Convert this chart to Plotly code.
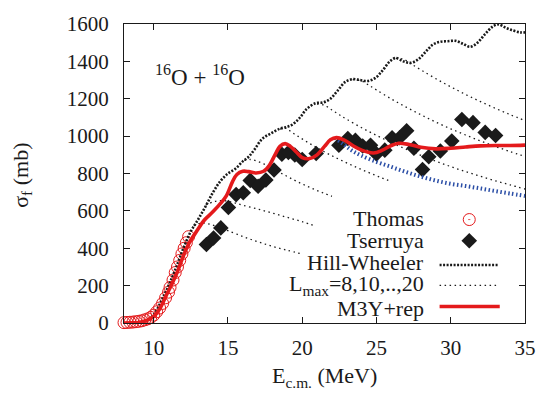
import plotly.graph_objects as go

# ---- measured data --------------------------------------------------------
thomas_e = [8.0, 8.2, 8.4, 8.6, 8.8, 9.0, 9.2, 9.4, 9.6, 9.8, 10.0, 10.2, 10.4,
            10.6, 10.8, 11.0, 11.1, 11.3, 11.45, 11.6, 11.75, 11.9, 12.05, 12.2, 12.35]
thomas_s = [2, 3, 4, 5, 7, 9, 12, 17, 22, 30, 42, 60, 80,
            105, 135, 165, 190, 230, 270, 300, 335, 370, 400, 430, 462]

tserruya_e = [13.55, 14.03, 14.52, 15.03, 15.55, 16.03, 16.5, 17.03, 17.55, 18.1,
              18.63, 19.07, 19.5, 20.0, 20.94, 22.47, 23.07, 23.58, 24.07, 24.6,
              25.0, 25.56, 26.05, 26.55, 27.03, 27.52, 28.1, 28.52, 29.3, 30.07,
              30.75, 31.5, 32.32, 33.02]
tserruya_s = [420, 455, 509, 618, 687, 697, 763, 732, 765, 819,
              903, 912, 899, 875, 907, 951, 987, 977, 947, 951,
              905, 925, 991, 991, 1029, 935, 821, 890, 920, 974,
              1089, 1072, 1020, 1003]

# ---- Hill-Wheeler fusion cross section -----------------------------------
hw_e = [9.0, 9.5, 10.0, 10.5, 11.0, 11.5, 12.0, 12.5, 13.0, 13.5, 14.0, 14.5,
        15.0, 15.5, 16.0, 16.4, 16.8, 17.3, 17.9, 18.5, 18.9, 19.3, 19.8, 20.3,
        20.9, 21.4, 21.9, 22.4, 22.9, 23.4, 23.9, 24.4, 24.9, 25.4, 25.9, 26.3,
        26.8, 27.3, 27.8, 28.3, 28.8, 29.3, 29.8, 30.3, 30.8, 31.3, 31.8, 32.3,
        32.8, 33.2, 33.7, 34.2, 34.7, 35.0]
hw_s = [2, 10, 45, 115, 200, 295, 400, 490, 555, 625, 700, 760,
        800, 825, 865, 890, 930, 985, 1015, 1040, 1048, 1060, 1095, 1145,
        1176, 1180, 1200, 1245, 1290, 1305, 1300, 1295, 1310, 1350, 1400, 1418,
        1400, 1392, 1410, 1450, 1490, 1505, 1508, 1510, 1495, 1478, 1500, 1545,
        1585, 1598, 1580, 1565, 1555, 1555]

# ---- Hill-Wheeler truncated at Lmax = 8, 10, ..., 20 -----------------------
lmax_e = {
    8: [12.7, 13.2, 13.8, 14.5, 15.0, 16.0, 17.0, 18.0, 19.0, 20.0],
    10: [13.5, 14.0, 14.5, 15.0, 15.5, 16.0, 17.0, 18.0, 19.0, 20.0, 20.9],
    12: [16.1, 16.5, 17.0, 17.5, 18.0, 18.5, 19.0, 19.5, 20.0, 20.5, 21.0, 21.5, 22.0],
    14: [18.5, 18.9, 19.3, 19.7, 20.2, 20.7, 21.2, 21.7, 22.2, 22.8, 23.4, 24.0,
         24.6, 25.3, 26.0],
    16: [21.0, 21.5, 22.0, 22.5, 23.0, 24.0, 25.0, 26.0, 27.0, 28.0, 29.0, 30.0,
         31.0, 32.0, 33.0, 34.0, 35.0],
    18: [23.4, 24.0, 24.5, 25.0, 26.0, 27.0, 28.0, 29.0, 30.0, 31.0, 32.0, 33.0,
         34.0, 35.0],
    20: [26.3, 26.8, 27.3, 28.0, 29.0, 30.0, 31.0, 32.0, 33.0, 34.0, 35.0],
}
lmax_s = {
    8: [520, 535, 528, 508, 494, 463, 435, 410, 389, 369],
    10: [630, 648, 655, 652, 642, 630, 610, 588, 565, 542, 518],
    12: [870, 875, 865, 848, 828, 805, 784, 763, 744, 726, 709, 693, 678],
    14: [1038, 1042, 1020, 1000, 975, 951, 929, 907, 887, 864, 842, 821,
         801, 778, 757],
    16: [1172, 1165, 1140, 1114, 1090, 1045, 1004, 966, 930, 897, 866, 837,
         810, 785, 761, 739, 717],
    18: [1302, 1295, 1272, 1247, 1199, 1155, 1114, 1075, 1039, 1006, 974, 945,
         917, 891],
    20: [1416, 1412, 1388, 1354, 1307, 1264, 1223, 1185, 1149, 1115, 1083],
}

# ---- M3Y+rep potential calculation ----------------------------------------
m3y_e = [8.0, 8.5, 9.0, 9.5, 10.0, 10.4, 10.8, 11.2, 11.6, 12.0, 12.4, 12.9,
         13.4, 14.0, 14.5, 14.9, 15.3, 15.6, 16.0, 16.4, 16.9, 17.4, 17.8, 18.2,
         18.5, 18.85, 19.2, 19.6, 20.0, 20.5, 21.0, 21.5, 21.9, 22.3, 22.8, 23.4,
         24.0, 24.8, 25.4, 26.0, 26.5, 27.2, 28.0, 29.0, 30.0, 31.0, 32.0, 33.0,
         34.0, 35.0]
m3y_s = [0, 1, 3, 12, 35, 75, 140, 205, 275, 360, 430, 492,
         550, 596, 640, 682, 755, 795, 812, 810, 803, 812, 845, 905,
         945, 960, 945, 915, 885, 880, 900, 945, 980, 992, 980, 950,
         925, 910, 925, 950, 962, 955, 940, 932, 935, 942, 948, 950,
         950, 952]

# M3Y+rep with the partial-wave sum truncated
m3y_trunc_e = [22.2, 22.8, 23.4, 24.0, 25.0, 26.0, 27.0, 28.0, 29.0, 30.0,
               31.0, 32.0, 33.0, 34.0, 35.0]
m3y_trunc_s = [990, 955, 920, 895, 862, 835, 808, 783, 762, 745,
               733, 720, 706, 693, 680]

# ---- styling ---------------------------------------------------------------
FONT = "Liberation Serif"
RED = "#e41a1c"
BLUE = "#2b4ea6"
INK = "#1a1a1a"
OPEN_DOT = "circle-open-dot"

fig = go.Figure()

fig.add_trace(go.Scatter(
    x=thomas_e, y=thomas_s, mode="markers", cliponaxis=False,
    marker=dict(symbol=OPEN_DOT, size=12, color=RED,
                line=dict(color=RED, width=1))))

fig.add_trace(go.Scatter(
    x=tserruya_e, y=tserruya_s, mode="markers",
    marker=dict(symbol="diamond", size=12, color=INK)))

for L in sorted(lmax_e):
    fig.add_trace(go.Scatter(
        x=lmax_e[L], y=lmax_s[L], mode="lines",
        line=dict(color=INK, width=1.3, dash="1.5px,3.5px", shape="spline")))

fig.add_trace(go.Scatter(
    x=hw_e, y=hw_s, mode="lines",
    line=dict(color=INK, width=2.6, dash="2px,1.5px", shape="spline")))

fig.add_trace(go.Scatter(
    x=m3y_trunc_e, y=m3y_trunc_s, mode="lines",
    line=dict(color=BLUE, width=4, dash="1.5px,2.5px", shape="spline")))

fig.add_trace(go.Scatter(
    x=m3y_e, y=m3y_s, mode="lines",
    line=dict(color=RED, width=3.6, shape="spline")))

# ---- key (drawn on a unit overlay axis) ------------------------------------
key_x0, key_x1, key_xm = 0.787, 0.932, 0.861
fig.add_trace(go.Scatter(
    x=[key_xm], y=[0.346], xaxis="x2", yaxis="y2", mode="markers",
    marker=dict(symbol=OPEN_DOT, size=12, color=RED,
                line=dict(color=RED, width=1))))
fig.add_trace(go.Scatter(
    x=[key_xm], y=[0.275], xaxis="x2", yaxis="y2", mode="markers",
    marker=dict(symbol="diamond", size=12, color=INK)))
fig.add_trace(go.Scatter(
    x=[key_x0, key_x1], y=[0.194, 0.194], xaxis="x2", yaxis="y2", mode="lines",
    line=dict(color=INK, width=2.6, dash="2px,1.5px")))
fig.add_trace(go.Scatter(
    x=[key_x0, key_x1], y=[0.126, 0.126], xaxis="x2", yaxis="y2", mode="lines",
    line=dict(color=INK, width=1.3, dash="1.5px,3.5px")))
fig.add_trace(go.Scatter(
    x=[key_x0, key_x1 + 0.005], y=[0.055, 0.055], xaxis="x2", yaxis="y2",
    mode="lines", line=dict(color=RED, width=3.6)))

key_labels = [
    ("Thomas", 0.350),
    ("Tserruya", 0.277),
    ("Hill-Wheeler", 0.201),
    ("L<sub>max</sub>=8,10,..,20", 0.126),
    ("M3Y+rep", 0.049),
]
annotations = []
for text, yy in key_labels:
    annotations.append(dict(
        text=text, x=0.753, y=yy, xref="paper", yref="paper",
        xanchor="right", yanchor="middle", showarrow=False,
        font=dict(family=FONT, size=22, color=INK)))

annotations.append(dict(
    text="<sup>16</sup>O + <sup>16</sup>O", x=0.190, y=0.828,
    xref="paper", yref="paper", xanchor="center", yanchor="middle",
    showarrow=False, font=dict(family=FONT, size=23, color=INK)))
annotations.append(dict(
    text="σ<sub>f</sub> (mb)", x=-0.255, y=0.495, textangle=-90,
    xref="paper", yref="paper", xanchor="center", yanchor="middle",
    showarrow=False, font=dict(family=FONT, size=22, color=INK)))
annotations.append(dict(
    text="E<sub>c.m.</sub> (MeV)", x=0.499, y=-0.180,
    xref="paper", yref="paper", xanchor="center", yanchor="middle",
    showarrow=False, font=dict(family=FONT, size=22, color=INK)))

axis_common = dict(
    showline=True, linecolor=INK, linewidth=1, mirror="ticks",
    ticks="inside", ticklen=6, tickwidth=1, tickcolor=INK,
    showgrid=False, zeroline=False,
    tickfont=dict(family=FONT, size=21, color=INK),
)

fig.update_layout(
    width=548, height=397,
    margin=dict(l=124, r=15, t=14, b=74),
    paper_bgcolor="white", plot_bgcolor="white",
    font=dict(family=FONT, color=INK),
    showlegend=False,
    xaxis=dict(range=[8, 35], tickvals=[10, 15, 20, 25, 30, 35],
               ticklabelstandoff=6, **axis_common),
    yaxis=dict(range=[0, 1600], tickvals=list(range(0, 1601, 200)),
               ticklabelstandoff=10, **axis_common),
    xaxis2=dict(range=[0, 1], overlaying="x", anchor="y2", visible=False),
    yaxis2=dict(range=[0, 1], overlaying="y", anchor="x2", visible=False),
    annotations=annotations,
)

fig.write_html("out.html")
